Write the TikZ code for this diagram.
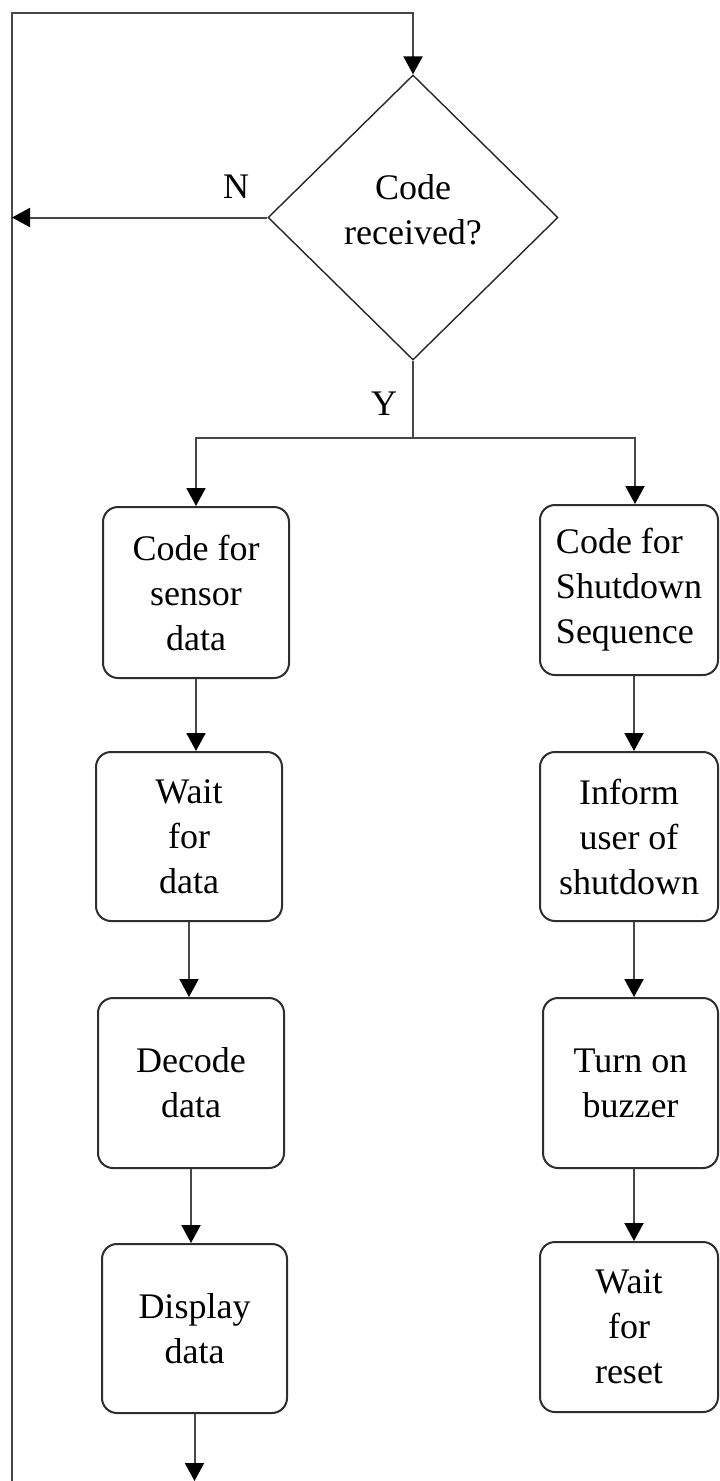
\documentclass[tikz,border=0pt]{standalone}
\usepackage{fontspec}
\setmainfont{Liberation Serif}
\usetikzlibrary{shapes.geometric,arrows.meta}
\begin{document}
\begin{tikzpicture}[x=1pt,y=-1pt,
  every node/.style={font=\fontsize{36}{45}\selectfont},
  box/.style={draw=black!82, line width=2pt, rounded corners=15pt, inner sep=0pt, align=center, minimum width=186pt},
  dec/.style={draw=black!85, line width=1.4pt, diamond, inner sep=0pt, minimum width=290pt, minimum height=285pt, align=center},
  line/.style={draw=black!72, line width=2pt},
  arr/.style={line, -{Triangle[width=19pt,length=18pt,color=black]}},
  lbl/.style={inner sep=0pt}
]
\fill[white] (0,0) rectangle (720,1481);
\useasboundingbox (0,0) rectangle (720,1481);

% decision
\node[dec] (d) at (413,217.5) {Code\\received?\\[-30pt]\mbox{}};
\node[lbl] (nl) at (236,187) {N};
\node[lbl] (yl) at (384,404) {Y};

% left column
\node[box, minimum height=171pt] (b1) at (196,592.5) {Code for\\sensor\\data};
\node[box, minimum height=169pt] (b2) at (189,836.5) {Wait\\for\\data};
\node[box, minimum height=170pt] (b3) at (191,1083) {Decode\\data};
\node[box, minimum width=185pt, minimum height=169pt] (b4) at (194.5,1328.5) {Display\\data};

% right column
\node[box, minimum width=178pt, minimum height=170pt, align=left] (r1) at (629,590) {Code for\\Shutdown\\Sequence};
\node[box, minimum width=178pt, minimum height=169pt] (r2) at (629,836.5) {Inform\\user of\\shutdown};
\node[box, minimum width=175pt, minimum height=170pt] (r3) at (630.5,1083) {Turn on\\buzzer};
\node[box, minimum width=178pt, minimum height=170pt] (r4) at (629,1327) {Wait\\for\\reset};

% helper coordinates
\coordinate (tl) at (12,13);
\coordinate (lb) at (12,1481);
\coordinate (split) at (413,438);
\coordinate (sr) at (635,438);
\coordinate (rx) at (634,0);
\coordinate (bot) at (194,1481);

% connectors
\draw[arr] (lb) -- (tl) -| (d.north);
\draw[arr] (d.west) -- (d.west -| lb);
\draw[line] (d.south) -- (split);
\draw[arr] (split) -| (b1.north);
\draw[arr] (split) -| (sr |- r1.north);

\draw[arr] (b1.south) -- (b1.south |- b2.north);
\draw[arr] (b2.south) -- (b2.south |- b3.north);
\draw[arr] (b3.south) -- (b3.south |- b4.north);
\draw[arr] (b4.south) -- (b4.south |- bot);

\draw[arr] (r1.south -| rx) -- (r2.north -| rx);
\draw[arr] (r2.south -| rx) -- (r3.north -| rx);
\draw[arr] (r3.south -| rx) -- (r4.north -| rx);
\end{tikzpicture}
\end{document}
